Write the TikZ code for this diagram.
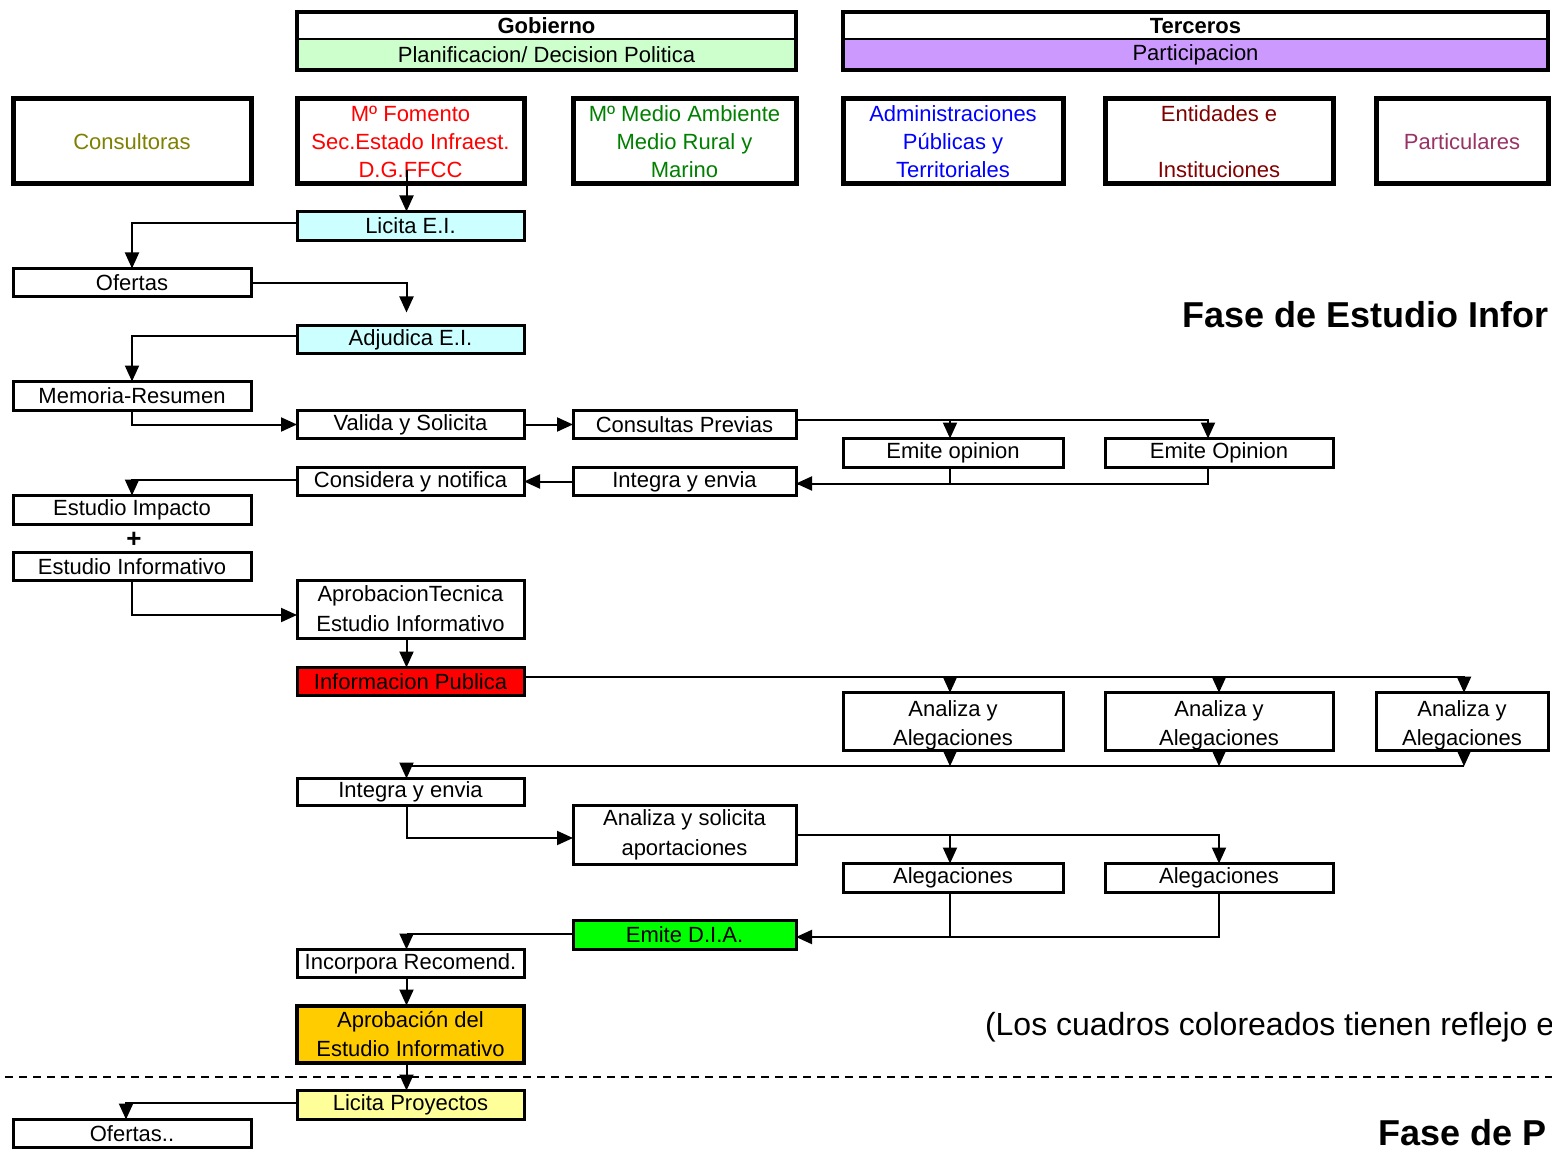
\documentclass[tikz,border=0pt]{standalone}
\usepackage{fontspec}
\setmainfont{Liberation Sans}
\usetikzlibrary{arrows.meta}
\definecolor{plangreen}{HTML}{CCFFCC}
\definecolor{partpurple}{HTML}{CC99FF}
\definecolor{olivetxt}{HTML}{808000}
\definecolor{greentxt}{HTML}{008000}
\definecolor{darkredtxt}{HTML}{800000}
\definecolor{plumtxt}{HTML}{993366}
\definecolor{lightcyan}{HTML}{CCFFFF}
\definecolor{brightgreen}{HTML}{00FF00}
\definecolor{gold}{HTML}{FFCC00}
\definecolor{lightyellow}{HTML}{FFFF99}
\newcommand\fs{\fontsize{22}{28}\selectfont}
\newcommand\fsw{\fontsize{22}{30}\selectfont}
\newcommand\fsa{\fontsize{22}{29}\selectfont}
\begin{document}
\begin{tikzpicture}[x=1pt,y=-1pt,
  box/.style={draw, line width=3pt, fill=white, inner sep=0pt, outer sep=0pt, align=center, font=\fs},
  bigbox/.style={box, line width=5pt},
  hdr/.style={draw, line width=2pt, inner sep=0pt, outer sep=0pt, align=center, font=\fs},
  colA/.style={minimum width=238pt},
  colB/.style={minimum width=227pt},
  colC/.style={minimum width=223pt},
  colD/.style={minimum width=220pt},
  colE/.style={minimum width=228pt},
  colF/.style={minimum width=172pt},
  conn/.style={line width=2pt},
  arr/.style={conn, -{Triangle[width=14pt,length=16pt]}},
  lab/.style={inner sep=0pt, outer sep=0pt, anchor=base west}
]
\clip (0,0) rectangle (1552,1155);
\fill[white] (0,0) rectangle (1552,1155);

% headers
\node[hdr, minimum width=499pt, minimum height=28pt, font=\fs\bfseries] (gob) at (546.5,26) {Gobierno};
\node[hdr, fill=plangreen, minimum width=499pt, minimum height=31pt] (plan) at (546.5,54.5) {Planificacion/ Decision Politica};
\draw[line width=4.5pt] (gob.north west) rectangle (plan.south east);
\node[hdr, minimum width=705pt, minimum height=28pt, font=\fs\bfseries] (terc) at (1195.5,26) {Terceros};
\node[hdr, fill=partpurple, minimum width=705pt, minimum height=31pt] (partic) at (1195.5,54.5) {Participacion};
\draw[line width=4.5pt] (terc.north west) rectangle (partic.south east);

% actor boxes
\node[bigbox, colA, minimum height=85pt, text=olivetxt] (consult) at (132,141.5) {Consultoras};
\node[bigbox, colB, minimum height=85pt, text=red] (fomento) at (410.5,141.5) {Mº Fomento\\Sec.Estado Infraest.\\D.G.FFCC};
\node[bigbox, colC, minimum height=85pt, text=greentxt] (medio) at (684.5,141.5) {Mº Medio Ambiente\\Medio Rural y\\Marino};
\node[bigbox, colD, minimum height=85pt, text=blue] (admin) at (953,141.5) {Administraciones\\Públicas y\\Territoriales};
\node[bigbox, colE, minimum height=85pt, text=darkredtxt] (entid) at (1219,141.5) {Entidades e\\[28pt]Instituciones};
\node[bigbox, colF, minimum height=85pt, text=plumtxt] (particul) at (1462,141.5) {Particulares};

% flow boxes
\node[box, colB, minimum height=29pt, fill=lightcyan] (licita) at (410.5,226) {Licita E.I.};
\node[box, colA, minimum height=28pt] (ofertas) at (132,282.5) {Ofertas};
\node[box, colB, minimum height=28pt, fill=lightcyan] (adjud) at (410.5,339.5) {Adjudica E.I.};
\node[box, colA, minimum height=29pt] (memoria) at (132,396) {Memoria-Resumen};
\node[box, colB, minimum height=28pt] (valida) at (410.5,424.5) {Valida y Solicita};
\node[box, colC, minimum height=28pt] (consultas) at (684.5,424.5) {Consultas Previas};
\node[box, colD, minimum height=29pt] (emite1) at (953,453) {Emite opinion};
\node[box, colE, minimum height=29pt] (emite2) at (1219,453) {Emite Opinion};
\node[box, colC, minimum height=28pt] (integra1) at (684.5,481.5) {Integra y envia};
\node[box, colB, minimum height=28pt] (considera) at (410.5,481.5) {Considera y notifica};
\node[box, colA, minimum height=29pt] (impacto) at (132,510) {Estudio Impacto};
\node[inner sep=0pt, font=\fontsize{26}{28}\selectfont\bfseries] (plus) at (134,540) {+};
\node[box, colA, minimum height=28pt] (estinf) at (132,566.5) {Estudio Informativo};
\node[box, colB, minimum height=58pt, font=\fsw] (aprobtec) at (410.5,609) {AprobacionTecnica\\Estudio Informativo};
\node[box, colB, minimum height=28pt, fill=red] (infopub) at (410.5,681.5) {Informacion Publica};
\node[box, colD, minimum height=55pt, font=\fsa] (analiza1) at (953,721.5) {\rule{0pt}{24pt}Analiza y\\Alegaciones};
\node[box, colE, minimum height=55pt, font=\fsa] (analiza2) at (1219,721.5) {\rule{0pt}{24pt}Analiza y\\Alegaciones};
\node[box, colF, minimum height=55pt, font=\fsa] (analiza3) at (1462,721.5) {\rule{0pt}{24pt}Analiza y\\Alegaciones};
\node[box, colB, minimum height=27pt] (integra2) at (410.5,792) {Integra y envia};
\node[box, colC, minimum height=59pt, font=\fsw] (analizasol) at (684.5,835) {Analiza y solicita\\aportaciones};
\node[box, colD, minimum height=29pt] (aleg1) at (953,878) {Alegaciones};
\node[box, colE, minimum height=29pt] (aleg2) at (1219,878) {Alegaciones};
\node[box, colC, minimum height=29pt, fill=brightgreen] (emitedia) at (684.5,935) {Emite D.I.A.};
\node[box, colB, minimum height=28pt] (incorpora) at (410.5,963.5) {Incorpora Recomend.};
\node[box, colB, minimum height=57pt, line width=4pt, fill=gold, font=\fsa] (aprobacion) at (410.5,1034) {Aprobación del\\Estudio Informativo};
\node[box, colB, minimum height=29pt, fill=lightyellow] (licitaproy) at (410.5,1105) {Licita Proyectos};
\node[box, colA, minimum height=28pt] (ofertas2) at (132,1133.5) {Ofertas..};

% texts
\node[lab, font=\fontsize{36}{40}\selectfont\bfseries] (fase1) at (1182,328) {Fase de Estudio Infor};
\node[lab, font=\fontsize{32}{36}\selectfont] (nota) at (985,1035) {(Los cuadros coloreados tienen reflejo e};
\node[lab, font=\fontsize{36}{40}\selectfont\bfseries] (fase2) at (1378,1145) {Fase de P};

% dashed separator
\coordinate (dl) at (5,1077);
\coordinate (dr) at (1552,1077);
\draw[line width=1.5pt, dash pattern=on 8pt off 6pt] (dl) -- (dr);

% connectors
\draw[arr] ([xshift=-4pt,yshift=14pt]fomento.south) -- ([xshift=-4pt]licita.north);
\draw[arr] ([yshift=3pt]licita.west) -| (ofertas.north);
\draw[arr] ([xshift=2pt,yshift=-1pt]ofertas.east) -| ([xshift=-4pt,yshift=13pt]adjud.north);
\draw[arr] ([yshift=3pt]adjud.west) -| (memoria.north);
\draw[arr] (memoria.south) |- (valida.west);
\draw[arr] (valida.east) -- (consultas.west);
\draw[arr] ([yshift=5pt]consultas.east) -| ([xshift=-3pt]emite1.north);
\draw[arr] ([yshift=5pt]consultas.east) -| ([xshift=-11pt]emite2.north);
\draw[conn] ([xshift=-11pt]emite2.south) |- ([yshift=-2pt]integra1.east);
\draw[arr] ([xshift=-3pt]emite1.south) |- ([yshift=-2pt]integra1.east);
\draw[arr] (integra1.west) -- (considera.east);
\draw[arr] ([yshift=2pt]considera.west) -| (impacto.north);
\draw[arr] (estinf.south) |- ([yshift=-6pt]aprobtec.west);
\draw[arr] ([xshift=-4pt]aprobtec.south) -- ([xshift=-4pt]infopub.north);
\draw[arr] ([yshift=5pt]infopub.east) -| ([xshift=-3pt]analiza1.north);
\draw[arr] ([yshift=5pt]infopub.east) -| (analiza2.north);
\draw[arr] ([yshift=5pt]infopub.east) -| ([xshift=2pt]analiza3.north);
\coordinate (b1) at ([xshift=-3pt,yshift=-16pt]analiza1.south);
\coordinate (b2) at ([yshift=-16pt]analiza2.south);
\coordinate (b3) at ([xshift=2pt,yshift=-16pt]analiza3.south);
\draw[arr] ([xshift=-3pt]analiza1.south) -- (b1);
\draw[arr] (analiza2.south) -- (b2);
\draw[arr] ([xshift=2pt]analiza3.south) -- (b3);
\draw[arr] (b3) -| ([xshift=-4pt]integra2.north);
\draw[arr] ([xshift=-4pt]integra2.south) |- ([yshift=-3pt]analizasol.west);
\draw[arr] ([xshift=2pt]analizasol.east) -| ([xshift=-3pt]aleg1.north);
\draw[arr] ([xshift=2pt]analizasol.east) -| (aleg2.north);
\draw[conn] (aleg2.south) |- ([yshift=-2pt]emitedia.east);
\draw[arr] ([xshift=-3pt]aleg1.south) |- ([yshift=-2pt]emitedia.east);
\draw[arr] ([yshift=1pt]emitedia.west) -| ([xshift=-4pt]incorpora.north);
\draw[arr] ([xshift=-4pt]incorpora.south) -- ([xshift=-4pt]aprobacion.north);
\draw[arr] ([xshift=-4pt]aprobacion.south) -- ([xshift=-4pt]licitaproy.north);
\draw[arr] ([yshift=2pt]licitaproy.west) -| ([xshift=-6pt]ofertas2.north);
\end{tikzpicture}
\end{document}
